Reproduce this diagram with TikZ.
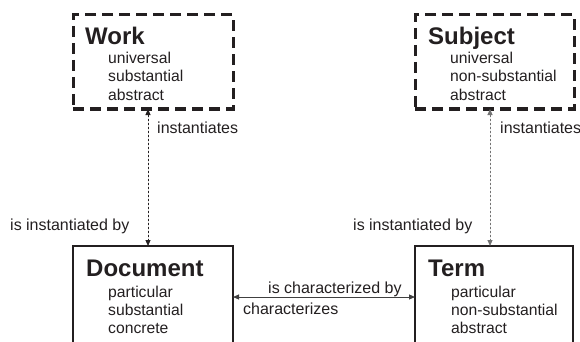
\documentclass[tikz,border=0pt]{standalone}
\usepackage{fontspec}
\setmainfont{Liberation Sans}
\usetikzlibrary{arrows.meta}
\definecolor{ink}{HTML}{231F20}
\tikzset{
  dashbox/.style={draw=ink, line width=3pt, dash pattern=on 11pt off 6pt, rectangle, inner sep=0pt, outer sep=0pt},
  solidbox/.style={draw=ink, line width=2.8pt, rectangle, inner sep=0pt, outer sep=0pt},
  titletext/.style={anchor=base west, inner sep=0pt, text=ink, font=\fontsize{24}{26}\selectfont\bfseries},
  attrtext/.style={anchor=base west, inner sep=0pt, text=ink, font=\fontsize{15.7}{18}\selectfont, align=left},
  labeltext/.style={anchor=base west, inner sep=0pt, text=ink, font=\fontsize{16}{18}\selectfont},
  dotarrow/.style={line width=1pt, dash pattern=on 2pt off 2pt, {Triangle[length=6pt,width=5pt]}-{Triangle[length=6pt,width=5pt]}},
  linkarrow/.style={line width=1pt, {Triangle[length=6pt,width=5pt]}-{Triangle[length=6pt,width=5pt]}}
}
\begin{document}
\begin{tikzpicture}[x=1pt,y=-1pt]
\useasboundingbox (0,0) rectangle (580,342);
\clip (0,0) rectangle (580,342);
% boxes
\node[dashbox, minimum width=160pt, minimum height=94pt] (work) at (153,62) {};
\node[dashbox, minimum width=159pt, minimum height=94pt] (subject) at (494.5,62) {};
\node[solidbox, minimum width=160pt, minimum height=134pt] (document) at (153,313) {};
\node[solidbox, minimum width=158pt, minimum height=134pt] (term) at (494,313) {};
% titles
\node[titletext] (tw) at (85,45) {Work};
\node[titletext] (ts) at (428,45) {Subject};
\node[titletext] (td) at (86,276) {Document};
\node[titletext] (tt) at (428,276) {Term};
% attributes
\node[attrtext] (aw1) at (108,64) {universal};
\node[attrtext] (aw2) at (108,82) {substantial};
\node[attrtext] (aw3) at (108,100) {abstract};
\node[attrtext] (as1) at (450,64) {universal};
\node[attrtext] (as2) at (450,82) {non-substantial};
\node[attrtext] (as3) at (450,100) {abstract};
\node[attrtext] (ad1) at (108,297) {particular};
\node[attrtext] (ad2) at (108,315) {substantial};
\node[attrtext] (ad3) at (108,333) {concrete};
\node[attrtext] (at1) at (451,297) {particular};
\node[attrtext] (at2) at (451,315) {non-substantial};
\node[attrtext] (at3) at (451,333) {abstract};
% connectors
\draw[dotarrow, draw=ink, fill=ink] ([xshift=-5pt]work.south) -- ([xshift=-5pt]document.north);
\draw[dotarrow, draw=black!55, fill=black!55] ([xshift=-4.5pt]subject.south) -- ([xshift=-4pt]term.north);
\coordinate (ylink) at (0,297);
\draw[linkarrow, draw=black!75, fill=black!75] (document.east |- ylink) -- (term.west |- ylink);
% labels
\node[labeltext] (l1) at (157,133) {instantiates};
\node[labeltext] (l2) at (10,230) {is instantiated by};
\node[labeltext] (l3) at (500,133) {instantiates};
\node[labeltext] (l4) at (353,230) {is instantiated by};
\node[labeltext] (l5) at (268,293) {is characterized by};
\node[labeltext] (l6) at (243,314) {characterizes};
\end{tikzpicture}
\end{document}
